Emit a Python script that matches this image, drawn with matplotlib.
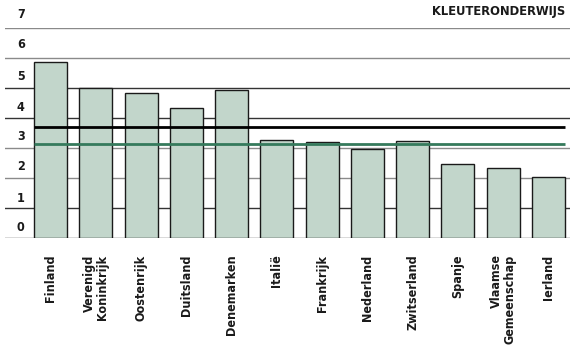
import matplotlib
matplotlib.use("Agg")
import matplotlib.pyplot as plt

countries = ["Finland", "Verenigd\nKoninkrijk", "Oostenrijk", "Duitsland", "Denemarken",
             "Italië", "Frankrijk", "Nederland", "Zwitserland", "Spanje",
             "Vlaamse\nGemeenschap", "Ierland"]
values = [5.87, 5.01, 4.83, 4.32, 4.93, 3.26, 3.19, 2.96, 3.22, 2.46, 2.32, 2.04]
black_line = 3.70
green_line = 3.12
band_labels = ["0", "1", "2", "3", "4", "5", "6", "7"]
title = "KLEUTERONDERWIJS"

plt.rcParams["font.family"] = ["DejaVu Sans"]
FONT = dict(fontweight="bold", fontstretch="condensed", color="#1a1a1a")

W, H = 570, 349
fig = plt.figure(figsize=(W / 100, H / 100), dpi=100)
ax = fig.add_axes([5 / W, (H - 238) / H, 565 / W, 210 / H])
ax.set_xlim(-1.005, 11.475)
ax.set_ylim(0, 7)
ax.axis("off")

grid_colors = ["#444444", "#333333", "#8a8a8a", "#8a8a8a", "#333333", "#333333", "#8a8a8a", "#8a8a8a"]
for k, c in enumerate(grid_colors):
    ax.axhline(k, color=c, lw=1.0, zorder=1)

x = list(range(len(countries)))
ax.bar(x, values, width=0.73, color="#c2d6cb", edgecolor="#1a1a1a", linewidth=1.0, zorder=2)
ax.hlines(black_line, -0.365, 11.365, color="black", lw=2.0, zorder=3)
ax.hlines(green_line, -0.365, 11.365, color="#357a5c", lw=2.0, zorder=3)

band_pos = [0.35, 1.3, 2.4, 3.4, 4.35, 5.4, 6.45, 7.45]
for lab, yy in zip(band_labels, band_pos):
    ax.text(12 / W, yy, lab, transform=ax.get_yaxis_transform(), ha="left", va="center",
            clip_on=False, fontsize=9, **FONT)

for xi, lab in zip(x, countries):
    ax.text(xi, -0.55, lab, rotation=90, ha="center", va="top", multialignment="right",
            clip_on=False, linespacing=1.0, fontsize=9, **FONT)

fig.text(565 / W, 1 - 12 / H, title, ha="right", va="center", fontsize=9.3, **FONT)

fig.savefig("out.png", dpi=100)
